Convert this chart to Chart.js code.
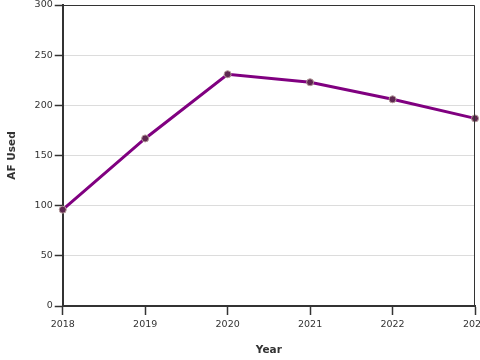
<!DOCTYPE html>
<html>
<head>
<meta charset="utf-8">
<script src="https://cdn.jsdelivr.net/npm/chart.js@4"></script>
<style>
  html, body { margin: 0; padding: 0; background: #fff; overflow: hidden; }
  #box { width: 480px; height: 360px; position: relative; }
</style>
</head>
<body>
<div id="box"><canvas id="c"></canvas></div>
<script>
const years = [2018, 2019, 2020, 2021, 2022, 2023];
const afUsed = [96, 167, 231, 223, 206, 187];
const yTicks = [0, 50, 100, 150, 200, 250, 300];

const frame = {
  id: 'frame',
  afterDatasetsDraw(chart) {
    const {ctx, chartArea: a} = chart;
    ctx.save();
    ctx.strokeStyle = '#333';
    ctx.lineWidth = 1;
    ctx.beginPath();
    ctx.moveTo(a.left, a.top + 0.5);
    ctx.lineTo(a.right - 0.5, a.top + 0.5);
    ctx.lineTo(a.right - 0.5, a.bottom);
    ctx.stroke();
    ctx.restore();
  }
};

new Chart(document.getElementById('c'), {
  type: 'line',
  data: {
    datasets: [{
      data: years.map((y, i) => ({x: y, y: afUsed[i]})),
      borderColor: '#800080',
      borderWidth: 3,
      pointRadius: 3.5,
      pointBackgroundColor: '#5e2750',
      pointBorderColor: '#b49a9a',
      pointBorderWidth: 1,
      tension: 0,
      clip: false
    }]
  },
  options: {
    responsive: true,
    maintainAspectRatio: false,
    animation: false,
    devicePixelRatio: 1,
    layout: { padding: { top: 0, right: 0, bottom: 0, left: 6 } },
    plugins: { legend: { display: false }, tooltip: { enabled: false } },
    scales: {
      x: {
        type: 'linear',
        min: years[0],
        max: years[years.length - 1],
        afterBuildTicks(scale) { scale.ticks = years.map(v => ({value: v})); },
        afterFit(scale) { scale.paddingRight = 5; scale.paddingLeft = 0; },
        ticks: { color: '#333', font: { family: 'DejaVu Sans', size: 9.5 }, padding: 4, maxRotation: 0,
                 callback: v => String(v) },
        grid: { drawOnChartArea: false, drawTicks: true, tickLength: 9, tickColor: '#333', tickWidth: 1.5 },
        border: { display: true, color: '#333', width: 2 },
        title: { display: true, text: 'Year', color: '#333',
                 font: { family: 'DejaVu Sans', size: 10.5, weight: 'bold' }, padding: { top: 10, bottom: 3 } }
      },
      y: {
        min: 0,
        max: 300,
        afterBuildTicks(scale) { scale.ticks = yTicks.map(v => ({value: v})); },
        afterFit(scale) { scale.paddingTop = 3; scale.paddingBottom = 0; },
        ticks: { color: '#333', font: { family: 'DejaVu Sans', size: 9.5 }, padding: 2 },
        grid: { color: '#dcdcdc', lineWidth: 1, drawTicks: true, tickLength: 8, tickColor: '#333', tickWidth: 1.5 },
        border: { display: true, color: '#333', width: 2 },
        title: { display: true, text: 'AF Used', color: '#333',
                 font: { family: 'DejaVu Sans', size: 10.5, weight: 'bold' }, padding: { top: 0, bottom: 14 } }
      }
    }
  },
  plugins: [frame]
});
</script>
</body>
</html>
